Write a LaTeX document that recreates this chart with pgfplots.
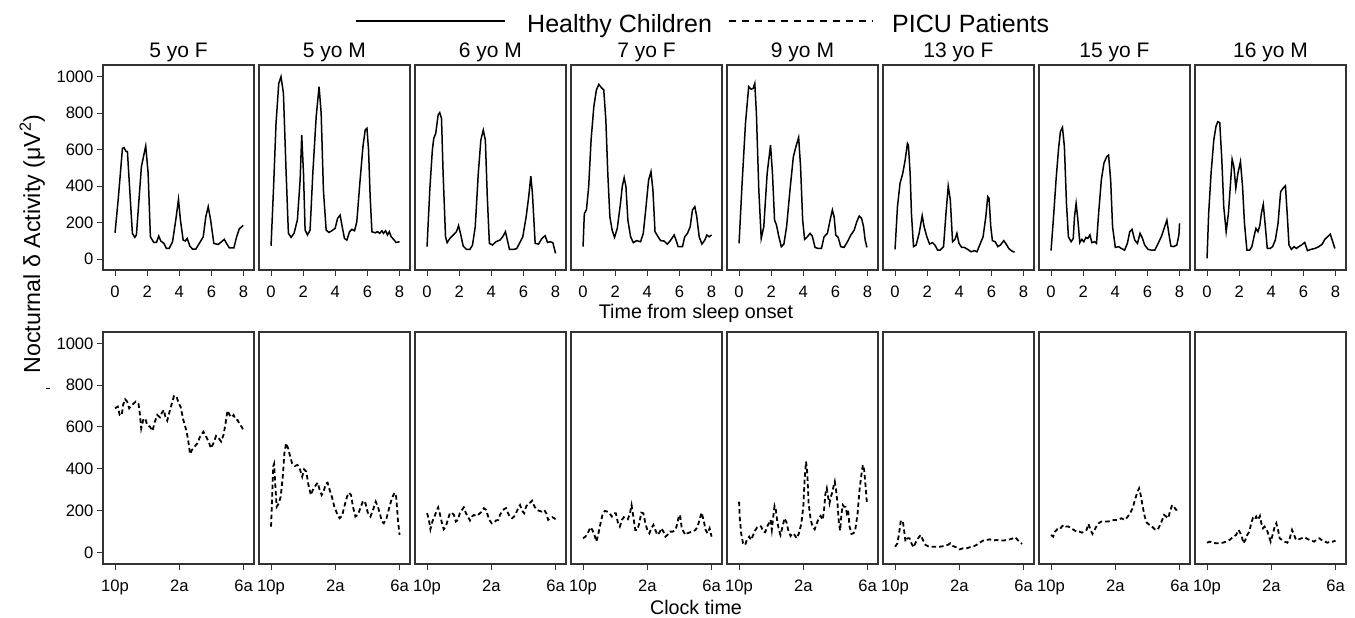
\documentclass[border=0pt]{standalone}
\usepackage{fontspec}
\setmainfont{Liberation Sans}
\usepackage{pgfplots}
\pgfplotsset{compat=1.18}
\pgfplotsset{
  panel/.style={scale only axis, width=151pt, xmin=-0.75, xmax=8.65,
    axis line style={black!80, line width=1.1pt},
    tick style={black!80, line width=1pt},
    tick align=outside, major tick length=6pt,
    xtick pos=left, ytick pos=left,
    ticklabel style={font=\fontsize{16.6}{18}\selectfont},
    xticklabel style={text height=11.9pt, text depth=0pt, yshift=-6pt},
    /pgf/number format/assume math mode=true,
    /pgf/number format/1000 sep={},
    every axis title shift=0pt,
    title style={font=\fontsize{21}{24}\selectfont, at={(0.5,1)}, anchor=base, yshift=8pt},
    anchor=north west},
  toprow/.style={panel, height=205pt, ymin=-60, ymax=1064, xtick={0,2,4,6,8}},
  botrow/.style={panel, height=232pt, ymin=-56, ymax=1054, xtick={0,4,8}, xticklabels={10p,2a,6a}},
  firstcol/.style={ytick={0,200,400,600,800,1000}},
  othercol/.style={ytick=\empty},
  hc/.style={black, line width=1.5pt, solid},
  picu/.style={black, line width=1.8pt, dash pattern=on 4.5pt off 3pt},
}
\begin{document}
\begin{tikzpicture}
\useasboundingbox (0,0) rectangle (1355pt,-618pt);
% legend
\draw[black, line width=2.2pt] (356pt,-21pt) -- (505pt,-21pt);
\node[anchor=base west, inner sep=0pt, font=\fontsize{25}{28}\selectfont] at (527pt,-33pt) {Healthy Children};
\draw[black, line width=1.8pt, dash pattern=on 7pt off 6pt] (729pt,-21pt) -- (873pt,-21pt);
\node[anchor=base west, inner sep=0pt, font=\fontsize{25}{28}\selectfont] at (892pt,-33pt) {PICU Patients};
% y label
\node[rotate=90, anchor=base, inner sep=0pt, font=\fontsize{23.2}{26}\selectfont] at (40pt,-244pt) {Nocturnal δ Activity (μV\textsuperscript{2})};
\draw[black, line width=1pt] (46pt,-388pt) -- (50pt,-388pt);
% x labels
\node[font=\fontsize{19.7}{22}\selectfont] at (696pt,-313pt) {Time from sleep onset};
\node[font=\fontsize{19.7}{22}\selectfont] at (696pt,-607pt) {Clock time};

% ---------------- top row ----------------
\begin{axis}[toprow, firstcol, at={(103pt,-65pt)}, title={5 yo F}]
\addplot[hc] coordinates {(0,144)(0.2,330)(0.46,607)(0.56,611)(0.67,592)(0.77,589)(1.08,141)(1.23,119)(1.33,132)(1.64,506)(1.91,620)(2.06,470)(2.2,122)(2.41,91)(2.58,91)(2.72,126)(2.85,99)(3.04,86)(3.2,58)(3.37,58)(3.58,95)(3.78,214)(3.95,327)(4.07,214)(4.24,104)(4.37,99)(4.49,113)(4.66,71)(4.82,55)(5.03,55)(5.28,91)(5.49,122)(5.65,232)(5.8,287)(5.95,214)(6.15,86)(6.42,80)(6.63,95)(6.8,108)(6.94,86)(7.11,62)(7.4,62)(7.57,122)(7.73,165)(7.98,185)};
\end{axis}
\begin{axis}[toprow, othercol, at={(259pt,-65pt)}, title={5 yo M}]
\addplot[hc] coordinates {(0,73)(0.15,378)(0.31,744)(0.48,963)(0.62,1000)(0.77,909)(0.94,470)(1.08,141)(1.25,119)(1.43,141)(1.64,214)(1.81,433)(1.91,680)(2.02,470)(2.12,159)(2.27,132)(2.43,159)(2.6,470)(2.81,781)(2.99,945)(3.12,799)(3.26,378)(3.43,159)(3.6,146)(3.78,155)(3.99,168)(4.14,223)(4.3,241)(4.43,177)(4.57,113)(4.72,104)(4.89,150)(5.03,163)(5.2,155)(5.34,205)(5.51,397)(5.72,616)(5.86,707)(5.97,717)(6.07,598)(6.17,342)(6.28,150)(6.48,144)(6.63,150)(6.76,141)(6.9,155)(7.0,141)(7.13,155)(7.25,132)(7.36,150)(7.48,122)(7.63,108)(7.78,91)(8.0,95)};
\end{axis}
\begin{axis}[toprow, othercol, at={(415pt,-65pt)}, title={6 yo M}]
\addplot[hc] coordinates {(0,68)(0.17,378)(0.33,598)(0.42,662)(0.54,689)(0.69,790)(0.79,803)(0.9,771)(1.0,470)(1.15,122)(1.25,90)(1.42,113)(1.63,132)(1.83,150)(1.96,183)(2.08,141)(2.25,71)(2.46,53)(2.67,53)(2.83,77)(3.0,177)(3.19,470)(3.35,653)(3.5,707)(3.63,653)(3.75,342)(3.88,86)(4.08,77)(4.29,95)(4.54,104)(4.71,122)(4.88,150)(5.0,104)(5.13,53)(5.38,53)(5.58,57)(5.75,86)(5.96,122)(6.17,232)(6.33,342)(6.46,455)(6.56,360)(6.73,86)(6.94,82)(7.15,113)(7.35,128)(7.5,91)(7.67,95)(7.83,90)(8.0,31)};
\end{axis}
\begin{axis}[toprow, othercol, at={(571pt,-65pt)}, title={7 yo F}]
\addplot[hc] coordinates {(0,68)(0.08,250)(0.21,269)(0.35,397)(0.5,653)(0.67,835)(0.83,927)(0.98,958)(1.13,941)(1.29,927)(1.42,762)(1.54,470)(1.67,232)(1.81,159)(1.96,119)(2.13,168)(2.33,305)(2.44,397)(2.56,446)(2.67,397)(2.79,214)(2.96,122)(3.13,90)(3.33,101)(3.58,95)(3.75,141)(3.92,287)(4.08,433)(4.23,479)(4.35,378)(4.48,150)(4.67,122)(4.83,101)(5.04,99)(5.25,82)(5.46,104)(5.67,132)(5.79,104)(5.92,68)(6.19,68)(6.33,122)(6.5,141)(6.67,177)(6.81,269)(6.96,287)(7.08,232)(7.23,122)(7.4,82)(7.58,104)(7.71,132)(7.85,122)(8.0,132)};
\end{axis}
\begin{axis}[toprow, othercol, at={(727pt,-65pt)}, title={9 yo M}]
\addplot[hc] coordinates {(0,86)(0.19,415)(0.4,744)(0.6,945)(0.75,931)(0.88,936)(0.98,963)(1.08,799)(1.23,378)(1.38,113)(1.54,177)(1.75,470)(1.96,625)(2.08,470)(2.21,214)(2.33,186)(2.48,122)(2.63,68)(2.79,82)(2.96,177)(3.17,378)(3.38,561)(3.54,616)(3.71,667)(3.83,506)(3.96,214)(4.08,108)(4.25,122)(4.42,141)(4.56,126)(4.73,64)(4.92,58)(5.13,58)(5.29,122)(5.5,141)(5.67,214)(5.81,269)(5.92,232)(6.02,132)(6.17,119)(6.33,68)(6.54,64)(6.75,95)(6.96,132)(7.17,159)(7.33,205)(7.48,236)(7.63,223)(7.75,177)(7.85,104)(7.96,64)};
\end{axis}
\begin{axis}[toprow, othercol, at={(883pt,-65pt)}, title={13 yo F}]
\addplot[hc] coordinates {(0,53)(0.15,287)(0.31,415)(0.48,470)(0.63,543)(0.77,634)(0.83,625)(0.94,470)(1.02,250)(1.15,68)(1.31,77)(1.5,141)(1.69,238)(1.81,177)(1.98,122)(2.15,82)(2.33,90)(2.48,77)(2.65,49)(2.81,49)(3.02,68)(3.17,250)(3.31,400)(3.44,324)(3.58,95)(3.73,108)(3.85,141)(3.98,86)(4.15,64)(4.31,64)(4.52,53)(4.73,40)(4.94,46)(5.1,40)(5.31,86)(5.48,122)(5.65,232)(5.77,342)(5.85,333)(5.96,177)(6.06,101)(6.23,95)(6.4,68)(6.56,77)(6.77,101)(6.92,82)(7.08,58)(7.27,44)(7.44,38)};
\end{axis}
\begin{axis}[toprow, othercol, at={(1039pt,-65pt)}, title={15 yo F}]
\addplot[hc] coordinates {(0,46)(0.17,250)(0.31,433)(0.46,598)(0.58,698)(0.71,722)(0.83,616)(0.96,305)(1.08,122)(1.25,95)(1.38,113)(1.46,232)(1.56,305)(1.67,214)(1.79,90)(1.92,108)(2.04,95)(2.17,119)(2.29,113)(2.42,132)(2.54,90)(2.71,95)(2.83,86)(2.96,250)(3.13,433)(3.29,525)(3.46,561)(3.58,570)(3.71,433)(3.83,177)(4.0,64)(4.21,68)(4.38,58)(4.58,49)(4.75,86)(4.9,150)(5.04,163)(5.21,104)(5.38,86)(5.54,141)(5.67,119)(5.83,77)(6.04,53)(6.25,49)(6.46,49)(6.67,86)(6.88,126)(7.04,168)(7.21,214)(7.33,141)(7.46,71)(7.63,68)(7.83,77)(7.96,132)(8.0,196)};
\end{axis}
\begin{axis}[toprow, othercol, at={(1195pt,-65pt)}, title={16 yo M}]
\addplot[hc] coordinates {(0,4)(0.1,250)(0.25,470)(0.42,653)(0.56,729)(0.67,753)(0.79,748)(0.92,543)(1.04,287)(1.19,150)(1.33,250)(1.46,415)(1.56,547)(1.67,506)(1.79,388)(1.92,470)(2.08,534)(2.21,397)(2.33,196)(2.48,49)(2.65,49)(2.79,68)(2.92,122)(3.04,168)(3.17,150)(3.29,186)(3.38,250)(3.5,300)(3.63,177)(3.75,58)(3.92,58)(4.08,68)(4.25,104)(4.42,196)(4.58,369)(4.73,388)(4.88,402)(5.0,232)(5.1,77)(5.25,53)(5.42,68)(5.56,58)(5.71,68)(5.88,77)(6.08,91)(6.25,46)(6.46,53)(6.71,58)(6.96,68)(7.17,82)(7.33,108)(7.5,122)(7.67,137)(7.79,104)(7.96,58)};
\end{axis}

% ---------------- bottom row ----------------
\begin{axis}[botrow, firstcol, at={(103pt,-332pt)}]
\addplot[picu] coordinates {(0,689)(0.17,697)(0.29,657)(0.42,657)(0.5,705)(0.63,732)(0.75,721)(0.88,689)(1.0,700)(1.13,710)(1.29,721)(1.46,710)(1.54,665)(1.63,593)(1.75,633)(1.88,641)(2.0,609)(2.17,601)(2.33,581)(2.48,625)(2.63,657)(2.79,646)(2.92,668)(3.04,681)(3.13,649)(3.25,630)(3.42,681)(3.54,713)(3.67,748)(3.83,745)(3.96,713)(4.08,697)(4.25,633)(4.46,577)(4.58,522)(4.67,470)(4.79,490)(4.96,506)(5.13,522)(5.29,553)(5.5,577)(5.67,553)(5.83,530)(5.96,498)(6.13,522)(6.29,557)(6.46,545)(6.6,530)(6.75,561)(6.88,617)(7.0,678)(7.13,657)(7.25,646)(7.38,657)(7.5,636)(7.63,633)(7.75,614)(7.9,598)(8.0,582)};
\end{axis}
\begin{axis}[botrow, othercol, at={(259pt,-332pt)}]
\addplot[picu] coordinates {(0,123)(0.06,250)(0.13,410)(0.19,423)(0.27,314)(0.35,218)(0.48,234)(0.6,266)(0.73,362)(0.83,474)(0.94,522)(1.06,498)(1.19,458)(1.31,426)(1.48,413)(1.65,418)(1.81,394)(1.94,362)(2.06,397)(2.19,386)(2.33,322)(2.48,274)(2.6,298)(2.75,317)(2.9,333)(3.02,301)(3.15,274)(3.27,290)(3.4,327)(3.52,333)(3.65,298)(3.79,266)(3.94,218)(4.1,187)(4.27,163)(4.42,174)(4.56,218)(4.73,266)(4.85,285)(4.98,274)(5.1,218)(5.25,171)(5.4,179)(5.56,211)(5.73,247)(5.88,234)(6.02,190)(6.19,171)(6.35,203)(6.52,242)(6.65,218)(6.77,187)(6.9,147)(7.02,139)(7.19,163)(7.35,211)(7.52,258)(7.69,285)(7.79,266)(7.9,155)(8.0,83)};
\end{axis}
\begin{axis}[botrow, othercol, at={(415pt,-332pt)}]
\addplot[picu] coordinates {(0,187)(0.1,163)(0.21,110)(0.33,147)(0.46,171)(0.58,195)(0.69,215)(0.79,187)(0.92,142)(1.04,110)(1.17,123)(1.29,155)(1.42,187)(1.54,190)(1.67,179)(1.79,147)(1.92,155)(2.04,187)(2.17,203)(2.29,215)(2.42,187)(2.54,171)(2.67,152)(2.79,171)(2.92,179)(3.04,174)(3.17,179)(3.29,187)(3.42,195)(3.54,211)(3.67,203)(3.77,179)(3.88,155)(4.02,139)(4.17,142)(4.29,152)(4.44,155)(4.54,179)(4.67,195)(4.79,206)(4.92,211)(5.04,187)(5.17,168)(5.29,163)(5.42,171)(5.54,187)(5.67,211)(5.79,226)(5.92,199)(6.04,187)(6.17,218)(6.29,234)(6.42,238)(6.54,247)(6.67,222)(6.79,206)(6.96,199)(7.13,195)(7.29,203)(7.42,187)(7.54,155)(7.67,163)(7.79,168)(7.92,163)(8.0,158)};
\end{axis}
\begin{axis}[botrow, othercol, at={(571pt,-332pt)}]
\addplot[picu] coordinates {(0,67)(0.15,75)(0.29,91)(0.46,120)(0.58,107)(0.71,83)(0.83,51)(0.96,91)(1.08,136)(1.21,179)(1.35,198)(1.5,195)(1.65,187)(1.79,171)(1.92,187)(2.04,187)(2.17,142)(2.29,123)(2.42,155)(2.54,168)(2.67,163)(2.79,158)(2.92,187)(3.02,226)(3.13,171)(3.25,107)(3.38,107)(3.5,139)(3.63,190)(3.75,187)(3.88,139)(4.0,107)(4.13,91)(4.25,115)(4.38,131)(4.5,107)(4.63,83)(4.75,94)(4.88,115)(5.0,99)(5.13,75)(5.25,83)(5.42,99)(5.58,99)(5.75,107)(5.88,139)(5.96,174)(6.04,179)(6.13,123)(6.25,99)(6.38,83)(6.5,91)(6.67,96)(6.83,99)(7.0,107)(7.13,123)(7.25,155)(7.38,190)(7.5,155)(7.63,107)(7.75,91)(7.88,115)(8.0,75)};
\end{axis}
\begin{axis}[botrow, othercol, at={(727pt,-332pt)}]
\addplot[picu] coordinates {(0,242)(0.04,171)(0.13,91)(0.25,43)(0.38,35)(0.5,62)(0.63,75)(0.75,59)(0.88,83)(1.0,104)(1.13,120)(1.25,126)(1.38,123)(1.5,99)(1.63,96)(1.75,123)(1.88,142)(1.96,155)(2.04,107)(2.13,171)(2.21,222)(2.29,203)(2.38,147)(2.48,107)(2.58,83)(2.71,123)(2.83,163)(2.96,142)(3.08,99)(3.21,78)(3.33,91)(3.46,83)(3.58,67)(3.73,91)(3.88,139)(4.0,218)(4.08,346)(4.17,434)(4.25,378)(4.33,234)(4.46,155)(4.58,123)(4.71,110)(4.83,136)(4.96,163)(5.08,174)(5.21,155)(5.29,203)(5.38,282)(5.46,306)(5.54,266)(5.63,234)(5.71,266)(5.79,282)(5.88,314)(5.96,338)(6.04,298)(6.13,234)(6.21,147)(6.29,104)(6.38,187)(6.46,226)(6.54,218)(6.63,218)(6.71,187)(6.79,203)(6.88,123)(7.0,88)(7.13,91)(7.25,115)(7.38,187)(7.5,298)(7.63,378)(7.71,418)(7.79,394)(7.88,314)(7.96,234)};
\end{axis}
\begin{axis}[botrow, othercol, at={(883pt,-332pt)}]
\addplot[picu] coordinates {(0,27)(0.15,43)(0.25,91)(0.35,147)(0.48,152)(0.56,107)(0.65,51)(0.77,67)(0.9,67)(1.02,43)(1.15,24)(1.31,51)(1.48,72)(1.6,83)(1.73,59)(1.9,35)(2.1,27)(2.33,27)(2.56,27)(2.81,27)(3.06,30)(3.27,35)(3.44,43)(3.6,30)(3.81,24)(4.02,14)(4.23,19)(4.44,19)(4.65,24)(4.85,27)(5.06,35)(5.27,46)(5.48,56)(5.69,59)(5.9,62)(6.1,56)(6.31,59)(6.52,56)(6.73,56)(6.94,59)(7.15,62)(7.35,67)(7.48,72)(7.6,62)(7.73,51)(7.9,40)};
\end{axis}
\begin{axis}[botrow, othercol, at={(1039pt,-332pt)}]
\addplot[picu] coordinates {(0,83)(0.13,75)(0.25,99)(0.38,110)(0.52,107)(0.67,123)(0.79,131)(0.94,123)(1.08,123)(1.25,115)(1.42,107)(1.58,99)(1.75,99)(1.92,94)(2.08,99)(2.21,107)(2.33,136)(2.46,107)(2.58,88)(2.71,107)(2.83,126)(2.96,139)(3.13,147)(3.33,147)(3.54,147)(3.75,152)(3.96,155)(4.17,155)(4.38,163)(4.58,155)(4.75,168)(4.92,187)(5.08,211)(5.25,258)(5.38,290)(5.48,306)(5.58,274)(5.71,218)(5.83,171)(5.96,142)(6.13,131)(6.29,123)(6.46,110)(6.63,107)(6.79,131)(6.92,155)(7.04,179)(7.17,171)(7.29,163)(7.42,199)(7.54,226)(7.67,215)(7.79,203)(7.92,206)(8.0,203)};
\end{axis}
\begin{axis}[botrow, othercol, at={(1195pt,-332pt)}]
\addplot[picu] coordinates {(0,46)(0.17,51)(0.35,46)(0.56,43)(0.77,43)(0.98,46)(1.19,51)(1.4,59)(1.6,72)(1.81,83)(1.96,107)(2.08,91)(2.17,72)(2.27,43)(2.38,59)(2.5,83)(2.63,99)(2.75,139)(2.85,163)(2.96,155)(3.06,171)(3.17,155)(3.29,174)(3.38,139)(3.48,115)(3.58,123)(3.71,110)(3.83,83)(3.96,51)(4.08,83)(4.21,123)(4.31,139)(4.42,107)(4.52,67)(4.67,59)(4.83,51)(5.0,46)(5.15,67)(5.29,107)(5.42,83)(5.54,59)(5.71,62)(5.88,67)(6.08,72)(6.29,62)(6.5,56)(6.67,51)(6.83,62)(7.0,67)(7.17,56)(7.33,51)(7.5,46)(7.67,51)(7.83,51)(8.0,56)};
\end{axis}
\end{tikzpicture}
\end{document}
